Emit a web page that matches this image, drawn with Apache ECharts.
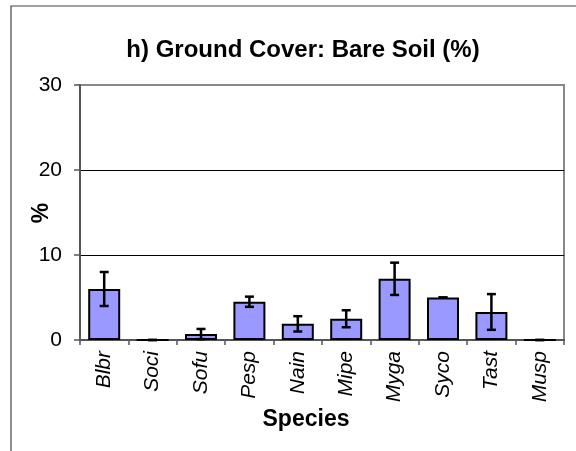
<!DOCTYPE html>
<html>
<head>
<meta charset="utf-8">
<script src="https://cdn.jsdelivr.net/npm/echarts@6/dist/echarts.min.js"></script>
<style>html,body{margin:0;padding:0;background:#fff}#c{width:576px;height:451px}</style>
</head>
<body>
<div id="c"></div>
<script>
const categories = ['Blbr','Soci','Sofu','Pesp','Nain','Mipe','Myga','Syco','Tast','Musp'];
const means = [6.0, 0, 0.7, 4.5, 1.9, 2.5, 7.2, 5.0, 3.3, 0];
const errors = [2.0, 0, 0.6, 0.6, 0.9, 1.0, 1.9, 0, 2.1, 0];
const yTicks = [0, 10, 20, 30];

const FONT = 'Liberation Sans, Arial, sans-serif';
const chart = echarts.init(document.getElementById('c'), null, {renderer: 'canvas'});
const errData = categories.map((c, i) => [i, means[i], errors[i]]);

chart.setOption({
  animation: false,
  title: {
    text: 'h) Ground Cover: Bare Soil (%)',
    left: 298, top: 33, textAlign: 'center',
    textStyle: {fontFamily: FONT, fontSize: 24, fontWeight: 'bold', color: '#000'}
  },
  grid: {left: 80, right: 12, top: 85, bottom: 111, show: true, borderColor: '#888', borderWidth: 2, backgroundColor: '#fff'},
  xAxis: {
    type: 'category', data: categories,
    axisLine: {show: true, lineStyle: {color: '#555', width: 2}},
    axisTick: {show: true, length: 5, lineStyle: {color: '#555', width: 1.5}},
    axisLabel: {rotate: 90, margin: 11, fontFamily: FONT, fontSize: 21, fontStyle: 'italic', color: '#000'}
  },
  yAxis: {
    type: 'value', min: yTicks[0], max: yTicks[yTicks.length - 1], interval: 10,
    axisLine: {show: true, lineStyle: {color: '#555', width: 2}},
    axisTick: {show: true, length: 6, lineStyle: {color: '#555', width: 1.5}},
    axisLabel: {margin: 18, fontFamily: FONT, fontSize: 21, color: '#000'},
    splitLine: {show: true, showMinLine: false, showMaxLine: false, lineStyle: {color: '#000', width: 1}}
  },
  graphic: [
    {type: 'rect', shape: {x: 11, y: 6, width: 700, height: 600}, style: {fill: 'none', stroke: '#444', lineWidth: 1.2}, silent: true},
    {type: 'text', x: 306, y: 420, style: {text: 'Species', font: 'bold 23px ' + FONT, fill: '#000', align: 'center', verticalAlign: 'middle'}},
    {type: 'text', x: 42, y: 213, rotation: Math.PI / 2, style: {text: '%', font: 'bold 23px ' + FONT, fill: '#000', align: 'center', verticalAlign: 'middle'}}
  ],
  series: [
    {
      type: 'bar', data: means, barWidth: 32,
      itemStyle: {color: '#9999FF', borderColor: '#000', borderWidth: 2}
    },
    {
      type: 'custom', data: errData, z: 5,
      renderItem: function (params, api) {
        const i = api.value(0), m = api.value(1), e = api.value(2);
        const top = api.coord([i, m + e]);
        const bot = api.coord([i, m - e]);
        const hw = 4.5;
        const st = {stroke: '#000', lineWidth: 2.5};
        return {type: 'group', children: [
          {type: 'line', shape: {x1: top[0], y1: top[1], x2: bot[0], y2: bot[1]}, style: st},
          {type: 'line', shape: {x1: top[0] - hw, y1: top[1], x2: top[0] + hw, y2: top[1]}, style: st},
          {type: 'line', shape: {x1: bot[0] - hw, y1: bot[1], x2: bot[0] + hw, y2: bot[1]}, style: st}
        ]};
      }
    }
  ]
});
</script>
</body>
</html>
